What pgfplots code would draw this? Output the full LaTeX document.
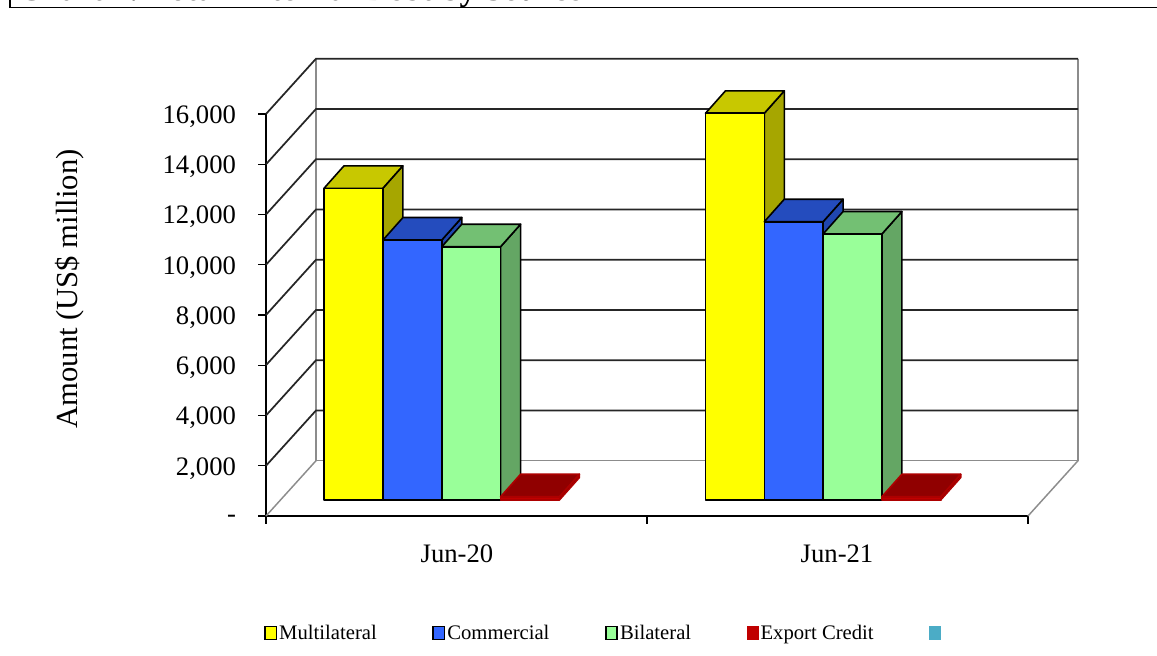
\documentclass[border=0pt]{standalone}
\usepackage{fontspec}
\setmainfont{Liberation Serif}
\usepackage{pgfplots}
\pgfplotsset{compat=1.18}
\definecolor{yF}{RGB}{255,255,0}\definecolor{yT}{RGB}{200,200,0}\definecolor{yS}{RGB}{166,166,0}
\definecolor{bF}{RGB}{51,102,255}\definecolor{bT}{RGB}{36,76,190}\definecolor{bS}{RGB}{32,70,175}
\definecolor{gF}{RGB}{153,255,153}\definecolor{gT}{RGB}{115,192,115}\definecolor{gS}{RGB}{100,166,100}
\definecolor{rF}{RGB}{192,0,0}\definecolor{rT}{RGB}{144,0,0}\definecolor{rS}{RGB}{120,0,0}
\definecolor{tealL}{RGB}{75,172,198}
\definecolor{wallG}{RGB}{140,140,140}
% one bar: x of the left edge, value, faces' colours, outline colour
\newcommand\tdbar[6]{%
  \pgfmathsetmacro\xa{#1}\pgfmathsetmacro\xb{#1+58.8}%
  \pgfmathsetmacro\xc{#1+20}\pgfmathsetmacro\xd{#1+78.8}%
  \edef\ya{\the\numexpr 637\relax}\edef\yb{\the\numexpr 637+#2\relax}%
  \edef\yc{\the\numexpr 637+895\relax}\edef\yd{\the\numexpr 637+#2+895\relax}%
  \addplot[forget plot,no marks,line join=round,line width=1.2pt,draw=#6,fill=#5] coordinates {(\xb,\ya) (\xd,\yc) (\xd,\yd) (\xb,\yb)} -- cycle;
  \addplot[forget plot,no marks,line join=round,line width=1.2pt,draw=#6,fill=#4] coordinates {(\xa,\yb) (\xb,\yb) (\xd,\yd) (\xc,\yd)} -- cycle;
  \addplot[forget plot,no marks,line join=round,line width=1.2pt,draw=#6,fill=#3] coordinates {(\xa,\ya) (\xb,\ya) (\xb,\yb) (\xa,\yb)} -- cycle;
}
% one gridline: value and its height on the back wall
\newcommand\gridl[2]{%
  \addplot[forget plot,no marks,line width=1.3pt,color=black!85] coordinates {(266,#1) (316,#2) (1078,#2)};
}
\begin{document}
\begin{tikzpicture}[x=0.75pt,y=0.75pt]
\useasboundingbox (0,0) rectangle (1157,656);
\clip (0,0) rectangle (1157,656);
\draw[line width=1.4pt,black] (10,656) -- (10,648.5) -- (1157,648.5);
\node[anchor=base west,inner sep=0pt,font=\bfseries\fontsize{25}{25}\selectfont] at (18,655.4) {Chart 4: Total External Debt by Source};
\begin{axis}[
  at={(199.5pt,105pt)},anchor=south west,
  scale only axis,width=571.5pt,height=301.5pt,
  xmin=266,xmax=1028,ymin=0,ymax=16000,
  clip=false,
  axis x line*=bottom,axis y line*=left,
  axis line style={-,black,line width=1.3pt},
  tick style={black,line width=1pt},
  tick align=outside,
  scaled y ticks=false,scaled x ticks=false,
  xtick={266,647,1028},xticklabels={},
  major tick length=6pt,
  x tick label style={yshift=-18pt},
  extra x ticks={457,837},
  extra x tick labels={Jun-20,Jun-21},
  extra x tick style={major tick length=0pt},
  ytick={0,2000,4000,6000,8000,10000,12000,14000,16000},
  yticklabels={-,{2,000},{4,000},{6,000},{8,000},{10,000},{12,000},{14,000},{16,000}},
  y tick label style={xshift=-13pt,yshift=-2pt},
  tick label style={font=\fontsize{20}{20}\selectfont},
  ylabel={Amount (US\$ million)},
  y label style={at={(-0.258,0.565)},anchor=center,font=\fontsize{23}{23}\selectfont},
  legend columns=5,
  legend cell align=left,
  legend style={at={(-0.0026,-0.291)},anchor=west,draw=none,fill=none,inner sep=0pt,
    font=\fontsize{15.5}{15.5}\selectfont,
    nodes={inner sep=0pt},
    /tikz/every even column/.append style={column sep=41.7pt},
    /tikz/every odd column/.append style={column sep=1.5pt}},
]
\addlegendimage{legend image code/.code={\draw[fill=yF,draw=black,line width=1.2pt](0pt,-5pt) rectangle (8.5pt,5pt);}}
\addlegendentry{Multilateral}
\addlegendimage{legend image code/.code={\draw[fill=bF,draw=black,line width=1.2pt](0pt,-5pt) rectangle (8.5pt,5pt);}}
\addlegendentry{Commercial}
\addlegendimage{legend image code/.code={\draw[fill=gF,draw=black,line width=1.2pt](0pt,-5pt) rectangle (8.5pt,5pt);}}
\addlegendentry{Bilateral}
\addlegendimage{legend image code/.code={\fill[rF](0pt,-5pt) rectangle (8.5pt,5pt);}}
\addlegendentry{Export Credit}
\addlegendimage{legend image code/.code={\fill[tealL](0pt,-5pt) rectangle (8pt,5pt);}}
\addlegendentry{}
% walls and floor
\addplot[forget plot,no marks,line width=1.1pt,color=wallG] coordinates {(316,18200) (316,2200) (1078,2200) (1078,18200)};
\addplot[forget plot,no marks,line width=1.1pt,color=wallG] coordinates {(266,0) (316,2200)};
\addplot[forget plot,no marks,line width=1.1pt,color=wallG] coordinates {(1028,0) (1078,2200)};
\gridl{2000}{4200}\gridl{4000}{6200}\gridl{6000}{8200}\gridl{8000}{10200}
\gridl{10000}{12200}\gridl{12000}{14200}\gridl{14000}{16200}\gridl{16000}{18200}
% Jun-20
\tdbar{324}{12405}{yF}{yT}{yS}{black}
\tdbar{383}{10348}{bF}{bT}{bS}{black}
\tdbar{441.8}{10081}{gF}{gT}{gS}{black}
\tdbar{500.6}{130}{rF}{rT}{rS}{rF!60!rT}
% Jun-21
\tdbar{705.5}{15391}{yF}{yT}{yS}{black}
\tdbar{764.3}{11076}{bF}{bT}{bS}{black}
\tdbar{823.1}{10587}{gF}{gT}{gS}{black}
\tdbar{881.9}{130}{rF}{rT}{rS}{rF!60!rT}
\end{axis}
\end{tikzpicture}
\end{document}
